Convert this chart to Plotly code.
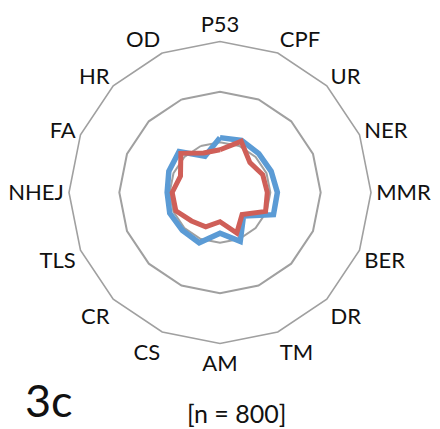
import plotly.graph_objects as go

# Pathway categories around the radar, clockwise from the top
categories = ["P53", "CPF", "UR", "NER", "MMR", "BER", "DR", "TM",
              "AM", "CS", "CR", "TLS", "NHEJ", "FA", "HR", "OD"]

# Series values (relative scores, 1.0 = reference ring)
blue_values = [1.09, 1.12, 1.09, 1.10, 1.14, 1.15, 0.66, 1.05,
               0.81, 1.08, 1.06, 1.08, 1.05, 1.10, 1.15, 0.78]
red_values = [0.85, 1.10, 0.84, 0.92, 0.94, 0.98, 0.62, 0.87,
              0.58, 0.74, 0.80, 0.95, 0.95, 0.85, 1.10, 0.85]

radial_ticks = [1, 2, 3]
panel_label = "3c"
sample_label = "[n = 800]"

BLUE = "#5B9BD5"
RED = "#CF5F58"
GRID = "#A0A0A0"
FONT = "Lato"
W, H = 440, 429


def closed(values):
    return values + values[:1]


def px_annotation(text, x, y, size):
    """Text annotation positioned by pixel centre."""
    return dict(text=text, x=x / W, y=1 - y / H, xref="paper", yref="paper",
                xanchor="center", yanchor="middle", showarrow=False,
                font=dict(size=size, family=FONT, color="#111111"))


fig = go.Figure()
fig.add_trace(go.Scatterpolar(
    r=closed(blue_values), theta=closed(categories), mode="lines",
    line=dict(color=BLUE, width=5.5), showlegend=False, hoverinfo="skip"))
fig.add_trace(go.Scatterpolar(
    r=closed(red_values), theta=closed(categories), mode="lines",
    line=dict(color=RED, width=5), showlegend=False, hoverinfo="skip"))

fig.update_layout(
    width=W, height=H,
    margin=dict(l=0, r=0, t=0, b=0),
    paper_bgcolor="white", plot_bgcolor="white",
    font=dict(family=FONT, color="#111111", size=22),
    polar=dict(
        domain=dict(x=[0.1557, 0.8443], y=[0.1993, 0.9033]),
        bgcolor="white",
        gridshape="linear",
        radialaxis=dict(range=[0, 3], tickvals=radial_ticks, showticklabels=False,
                        ticks="", showline=False, gridcolor=GRID, gridwidth=1.6),
        angularaxis=dict(direction="clockwise", rotation=90, showgrid=False,
                         showline=True, linecolor=GRID, linewidth=1.6, ticks="",
                         tickfont=dict(size=22, family=FONT, color="#111111")),
    ),
    annotations=[
        px_annotation(panel_label, 49, 400, 45),
        px_annotation(sample_label, 236, 413, 25),
    ],
)

fig.write_html("out.html")
